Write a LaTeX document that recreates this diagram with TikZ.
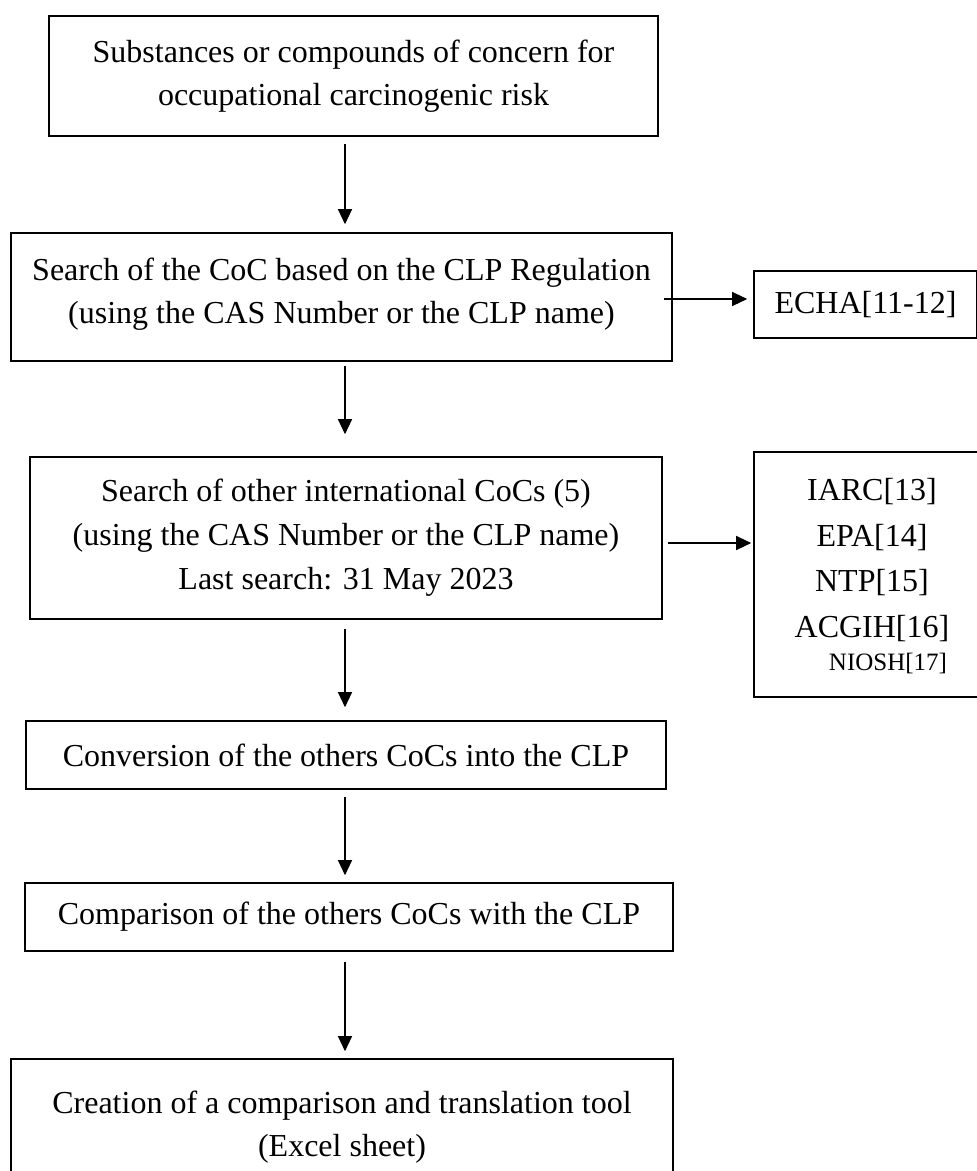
\documentclass[tikz,border=0pt]{standalone}
\usepackage{fontspec}
\setmainfont{Liberation Serif}
\usetikzlibrary{arrows.meta}
\begin{document}
\begin{tikzpicture}[x=1pt,y=-1pt,
  flowbox/.style={draw,line width=1.6pt,inner sep=0pt,align=center,font=\fontsize{32}{43}\selectfont},
  plaintext/.style={inner sep=0pt,align=center,font=\fontsize{32}{45.7}\selectfont},
  conn/.style={line width=1.2pt,-{Triangle[length=15pt,width=14pt]}}]
\useasboundingbox (0,0) rectangle (977,1171);
\clip (0,0) rectangle (977,1171);
\coordinate (ax) at (345,0);
\node[flowbox,minimum width=609pt,minimum height=120pt] (b1) at (353.5,76)
  {Substances or compounds of concern for\\occupational carcinogenic risk};
\node[flowbox,minimum width=661pt,minimum height=128pt,text depth=12pt] (b2) at (341.5,297)
  {Search of the CoC based on the CLP Regulation\\(using the CAS Number or the CLP name)};
\node[flowbox,minimum width=223pt,minimum height=67pt] (echa) at (865.5,304.5)
  {ECHA[11-12]};
\node[flowbox,minimum width=632pt,minimum height=162pt,font=\fontsize{32}{44}\selectfont] (b3) at (346,538)
  {Search of other international CoCs (5)\\(using the CAS Number or the CLP name)\\Last search: 31 May 2023};
\node[flowbox,minimum width=236pt,minimum height=245pt] (iarc) at (872,574.5) {};
\node[plaintext] (iarctxt) at (872,560) {IARC[13]\\EPA[14]\\NTP[15]\\ACGIH[16]};
\node[inner sep=0pt,font=\fontsize{25}{30}\selectfont] (niosh) at (888,663) {NIOSH[17]};
\node[flowbox,minimum width=640pt,minimum height=68pt] (b4) at (346,755)
  {Conversion of the others CoCs into the CLP};
\node[flowbox,minimum width=648pt,minimum height=68pt] (b5) at (349,917)
  {Comparison of the others CoCs with the CLP};
\node[flowbox,minimum width=662pt,minimum height=136pt] (b6) at (342,1127)
  {Creation of a comparison and translation tool\\(Excel sheet)};
\draw[conn,shorten <=7pt,shorten >=8pt] (b1.south -| ax) -- (b2.north -| ax);
\draw[conn,shorten <=4pt,shorten >=22pt] (b2.south -| ax) -- (b3.north -| ax);
\draw[conn,shorten <=9pt,shorten >=13pt] (b3.south -| ax) -- (b4.north -| ax);
\draw[conn,shorten <=7pt,shorten >=7pt] (b4.south -| ax) -- (b5.north -| ax);
\draw[conn,shorten <=10pt,shorten >=7pt] (b5.south -| ax) -- (b6.north -| ax);
\draw[conn] ([shift={(-9,2)}]b2.east) -- ([shift={(-6,-5.5)}]echa.west);
\draw[conn] ([shift={(5,5)}]b3.east) -- ([shift={(-2,-31.5)}]iarc.west);
\end{tikzpicture}
\end{document}
